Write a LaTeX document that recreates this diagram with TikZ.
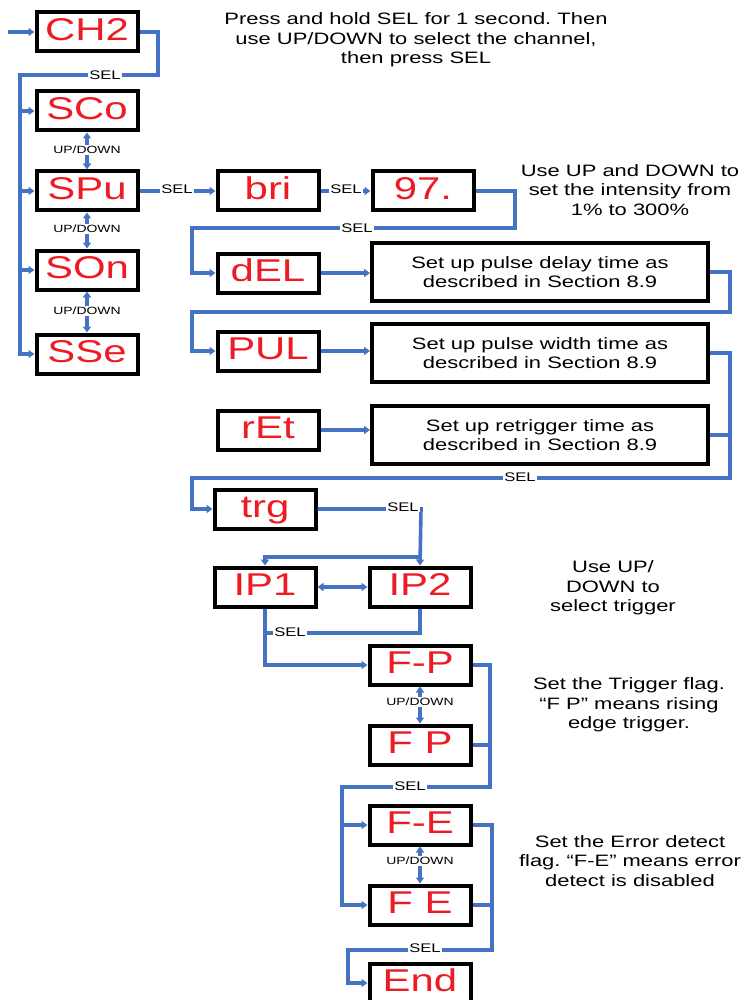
\documentclass[tikz,border=0pt]{standalone}
\usepackage{fontspec}
\setmainfont[FakeStretch=1.33]{Liberation Sans}
\usetikzlibrary{arrows.meta}
\definecolor{lblue}{HTML}{4472C4}
\definecolor{dred}{HTML}{ED1C24}
\frenchspacing
\begin{document}
\begin{tikzpicture}[x=1pt,y=-1pt,
  disp/.style={draw=black,line width=4pt,fill=white,minimum width=101pt,minimum height=39pt,inner sep=0pt,text height=23pt,text depth=6pt,text=dred,font=\fontsize{31.5}{31.5}\selectfont},
  desc/.style={draw=black,line width=4pt,fill=white,minimum width=336pt,minimum height=58pt,inner sep=0pt,align=center,font=\fontsize{16.5}{19.5}\selectfont},
  note/.style={align=center,font=\fontsize{16.5}{19.5}\selectfont},
  wire/.style={draw=lblue,line width=3.6pt},
  conn/.style={wire,-{Triangle[length=6pt,width=8pt]}},
  both/.style={wire,{Triangle[length=6pt,width=8pt]}-{Triangle[length=6pt,width=8pt]}},
  lab/.style={fill=white,inner sep=1pt,font=\fontsize{12.5}{12.5}\selectfont},
  ud/.style={fill=white,inner sep=1pt,font=\fontsize{10.5}{10.5}\selectfont}
]
\useasboundingbox (0,0) rectangle (744,1000);

% display boxes
\node[disp] (CH2) at (87,32) {CH2};
\node[disp] (SCo) at (87,111) {SCo};
\node[disp] (SPu) at (87,191) {SPu};
\node[disp] (SOn) at (87,270) {SOn};
\node[disp] (SSe) at (87,354) {SSe};
\node[disp] (bri) at (268,191) {bri};
\node[disp] (n97) at (423,191) {97.};
\node[disp] (dEL) at (268,273) {dEL};
\node[disp] (PUL) at (268,351) {PUL};
\node[disp] (rEt) at (268,430) {rEt};
\node[disp] (trg) at (265,509) {trg};
\node[disp] (IP1) at (265,587) {IP1};
\node[disp] (IP2) at (420,587) {IP2};
\node[disp] (FmP) at (420,665) {F-P};
\node[disp] (FsP) at (420,745) {F P};
\node[disp] (FmE) at (420,825) {F-E};
\node[disp] (FsE) at (420,905) {F E};
\node[disp] (End) at (420,983) {End};

% description boxes
\node[desc] (d1) at (540,272) {Set up pulse delay time as\\described in Section 8.9};
\node[desc] (d2) at (540,353) {Set up pulse width time as\\described in Section 8.9};
\node[desc] (d3) at (540,435) {Set up retrigger time as\\described in Section 8.9};

% notes
\node[note] (t1) at (416,40) {Press and hold SEL for 1 second. Then\\use UP/DOWN to select the channel,\\then press SEL};
\node[note] (t2) at (630,190) {Use UP and DOWN to\\set the intensity from\\1\% to 300\%};
\node[note] (t3) at (613,588) {Use UP/\\DOWN to\\select trigger};
\node[note] (t4) at (629,705) {Set the Trigger flag.\\“F P” means rising\\edge trigger.};
\node[note] (t5) at (630,861) {Set the Error detect\\flag. “F-E” means error\\detect is disabled};

% connectors
\coordinate (in) at (8,32);
\draw[conn] (in) -- (CH2.west);
\draw[wire] (CH2.east) -- (158,32) -- (158,75) -- (20,75) -- (20,111);
\draw[conn] (20,105) |- (SCo.west);
\draw[conn] (20,111) |- (SPu.west);
\draw[conn] (20,191) |- (SOn.west);
\draw[conn] (20,270) |- (SSe.west);
\draw[both] (SCo.south) -- (SPu.north);
\draw[both] (SPu.south) -- (SOn.north);
\draw[both] (SOn.south) -- (SSe.north);

\draw[conn] (SPu.east) -- (bri.west);
\draw[conn] (bri.east) -- (n97.west);
\draw[conn] (n97.east) -- (515,191) -- (515,228) -- (192,228) |- (dEL.west);
\draw[conn] (dEL.east) -- (dEL.east -| d1.west);
\draw[conn] (d1.east) -- (730,272) -- (730,312) -- (192,312) |- (PUL.west);
\draw[conn] (PUL.east) -- (PUL.east -| d2.west);
\draw[conn] (rEt.east) -- (rEt.east -| d3.west);
\draw[conn] (d2.east) -- (730,353) -- (730,478) -- (192,478) |- (trg.west);
\draw[wire] (d3.east) -- (730,435);

\draw[conn] (trg.east) -- (421,509) -- (IP2.north);
\draw[conn] (421,557) -| (IP1.north);
\draw[both] (IP1.east) -- (IP2.west);
\draw[conn] (IP1.south) |- (FmP.west);
\draw[wire] (IP2.south) |- (265,633);

\draw[both] (FmP.south) -- (FsP.north);
\draw[wire] (FmP.east) -- (490,665) -- (490,787) -- (342,787) -- (342,825);
\draw[wire] (FsP.east) -- (490,745);
\draw[conn] (342,787) |- (FmE.west);
\draw[conn] (342,825) |- (FsE.west);

\draw[both] (FmE.south) -- (FsE.north);
\draw[conn] (FmE.east) -- (492,825) -- (492,950) -- (348,950) |- (End.west);
\draw[wire] (FsE.east) -- (492,905);

% labels
\node[lab] (s1) at (105,75) {SEL};
\node[ud] (u1) at (87,150) {UP/DOWN};
\node[ud] (u2) at (87,229) {UP/DOWN};
\node[ud] (u3) at (87,311) {UP/DOWN};
\node[lab] (s2) at (177,189) {SEL};
\node[lab] (s3) at (346,189) {SEL};
\node[lab] (s4) at (357,228) {SEL};
\node[lab] (s5) at (520,477) {SEL};
\node[lab] (s6) at (403,507) {SEL};
\node[lab] (s7) at (290,632) {SEL};
\node[ud] (u4) at (420,702) {UP/DOWN};
\node[lab] (s8) at (410,786) {SEL};
\node[ud] (u5) at (420,861) {UP/DOWN};
\node[lab] (s9) at (425,948) {SEL};
\end{tikzpicture}
\end{document}
